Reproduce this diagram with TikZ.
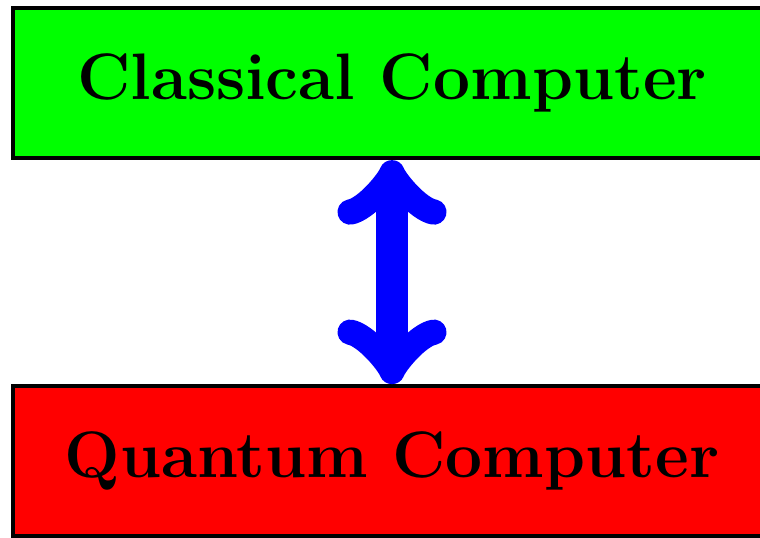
\documentclass[tikz,border=0pt]{standalone}
\usetikzlibrary{positioning}

\begin{document}
\begin{tikzpicture}[node distance=2.24cm, >=to,
  box/.style={rectangle, draw, line width=1.2pt, fill=#1, minimum height=1.5cm, minimum width=7.58cm, align=center, font=\fontsize{18.7}{22}\selectfont\bfseries},
  box/.default=green,
  link/.style={<->, draw=blue, line width=9pt, line cap=round}]
  \useasboundingbox (0,0) rectangle (7.6,-5.37);
  \clip (0,0) rectangle (7.6,-5.37);
  \node[box=green] (classical) at (3.92,-0.83) {Classical Computer};
  \node[box=red, below=of classical] (quantum) {Quantum Computer};
  \draw[link] (classical) -- (quantum);
\end{tikzpicture}
\end{document}
